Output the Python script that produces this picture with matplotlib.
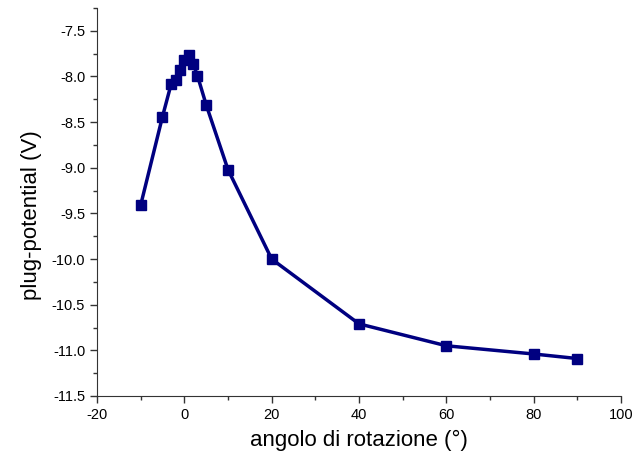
import matplotlib
matplotlib.use("Agg")
import matplotlib.pyplot as plt
from matplotlib.ticker import MultipleLocator, FormatStrFormatter

# angolo di rotazione (deg) vs plug-potential (V)
angle = [-10, -5, -3, -2, -1, 0, 1, 2, 3, 5, 10, 20, 40, 60, 80, 90]
potential = [-9.41, -8.44, -8.08, -8.04, -7.93, -7.82, -7.76, -7.86, -7.99,
             -8.31, -9.02, -10.0, -10.71, -10.95, -11.04, -11.09]

plt.rcParams["font.family"] = ["Liberation Sans", "DejaVu Sans"]
plt.rcParams["axes.unicode_minus"] = False

fig = plt.figure(figsize=(6.44, 4.62), dpi=100)
ax = fig.add_axes([0.1506, 0.1429, 0.8137, 0.8398])

ax.plot(angle, potential, color="#000080", lw=2.5, marker="s", ms=6.5)

ax.set_xlim(-20, 100)
ax.set_ylim(-11.5, -7.25)
ax.xaxis.set_major_locator(MultipleLocator(20))
ax.xaxis.set_minor_locator(MultipleLocator(10))
ax.yaxis.set_major_locator(MultipleLocator(0.5))
ax.yaxis.set_minor_locator(MultipleLocator(0.25))
ax.yaxis.set_major_formatter(FormatStrFormatter("%.1f"))

for s in ["top", "right"]:
    ax.spines[s].set_visible(False)
for s in ["left", "bottom"]:
    ax.spines[s].set_color("#333333")
ax.tick_params(which="major", length=5, width=1, color="#333333", labelsize=10.5)
ax.tick_params(which="minor", length=3, width=1, color="#333333")

ax.set_xlabel("angolo di rotazione (°)", fontsize=16, labelpad=6)
ax.set_ylabel("plug-potential (V)", fontsize=16, labelpad=7)
ax.yaxis.label.set_y(0.465)

fig.savefig("out.png", dpi=100)
